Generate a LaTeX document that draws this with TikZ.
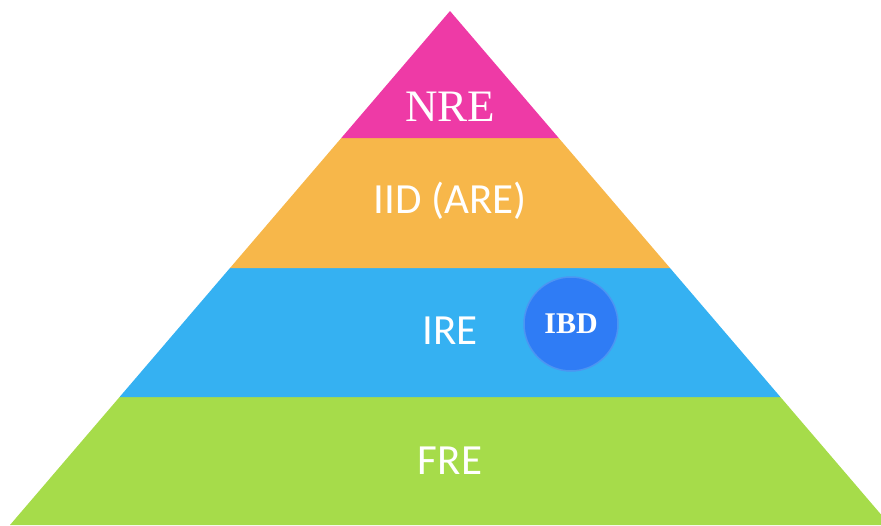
\documentclass[tikz,border=0pt]{standalone}
\usepackage{fontspec}
\setmainfont{Liberation Serif}
\newfontfamily\calibri{Carlito}
\usetikzlibrary{positioning}

\definecolor{nrepink}{HTML}{EE3AA6}
\definecolor{iidorange}{HTML}{F7B74A}
\definecolor{ireblue}{HTML}{35B1F2}
\definecolor{fregreen}{HTML}{A6DC4A}
\definecolor{ibdblue}{HTML}{2F7CF5}
\definecolor{ibdring}{HTML}{4C95F2}

\begin{document}
\begin{tikzpicture}[x=1pt,y=-1pt]

\tikzset{layer/.style = {text=white, font=\calibri\fontsize{43}{43}\selectfont}}
\tikzset{badge/.style = {shape=circle, fill=ibdblue, draw=ibdring, line width=1.5pt,
  minimum size=94pt, inner sep=0pt, text=white, font=\bfseries\fontsize{30}{30}\selectfont}}

\useasboundingbox (0,0) rectangle (881,525);
\clip (0,0) rectangle (881,525);

% bands
\fill[fregreen]   (119.6,397) -- (780.4,397) -- (890,525) -- (10,525) -- cycle;
\fill[ireblue]    (230,268) -- (670,268) -- (780.4,397) -- (119.6,397) -- cycle;
\fill[iidorange]  (341.3,138) -- (558.7,138) -- (670,268) -- (230,268) -- cycle;
\fill[nrepink]    (450,11) -- (558.7,138) -- (341.3,138) -- cycle;

% labels
\node[text=white, font=\fontsize{45}{45}\selectfont] (nre) at (450,107) {NRE};
\node[layer] (iid) at (450,201) {IID (ARE)};
\node[layer] (ire) at (450,331) {IRE};
\node[layer] (fre) at (450,461) {FRE};
\node[badge] (ibd) at (571,324) {IBD};

\end{tikzpicture}
\end{document}
